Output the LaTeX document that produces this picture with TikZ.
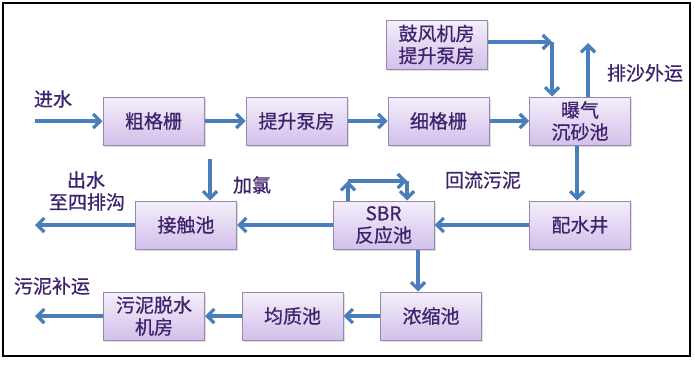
\documentclass[tikz,border=0pt]{standalone}
\usepackage{fontspec}
\newfontfamily\cjk[FakeBold=0.7]{Noto Sans CJK SC}
\usetikzlibrary{arrows.meta,shadows}
\definecolor{arrowblue}{RGB}{74,126,187}
\definecolor{txtpurple}{RGB}{62,34,108}
\definecolor{boxtop}{RGB}{244,238,250}
\definecolor{boxbot}{RGB}{210,192,234}
\definecolor{boxline}{RGB}{150,134,178}
\tikzset{
  procbox/.style={rectangle, draw=boxline, line width=1pt, top color=boxtop, bottom color=boxbot,
    minimum width=101pt, minimum height=48pt, inner sep=0pt, align=center,
    text=txtpurple, font=\cjk\fontsize{19}{22}\selectfont,
    drop shadow={opacity=0.25, shadow xshift=1.5pt, shadow yshift=-1.5pt}},
  lbl/.style={text=txtpurple, font=\cjk\fontsize{19}{22}\selectfont, inner sep=0pt},
  arr/.style={draw=arrowblue, line width=3.2pt, -{Straight Barb[length=7pt,width=14pt]}}
}
\begin{document}
\begin{tikzpicture}[x=1pt,y=-1pt]
\useasboundingbox (0,0) rectangle (695,364);
\fill[white] (0,0) rectangle (695,364);
\draw[black, line width=1.2pt] (3,3) rectangle (690,356);
% boxes
\node[procbox] (cu) at (153.5,121) {粗格栅};
\node[procbox] (ts) at (296.5,121) {提升泵房};
\node[procbox] (xi) at (438.5,121) {细格栅};
\node[procbox] (pq) at (580,121) {曝气\\沉砂池};
\node[procbox, minimum height=49pt] (gf) at (436.5,44.5) {鼓风机房\\提升泵房};
\node[procbox] (jc) at (186,225) {接触池};
\node[procbox] (sbr) at (383.5,225) {SBR\\反应池};
\node[procbox] (ps) at (580,225) {配水井};
\node[procbox] (wn) at (154,316) {污泥脱水\\机房};
\node[procbox] (jz) at (292.5,316) {均质池};
\node[procbox] (ns) at (431,316) {浓缩池};
% labels
\node[lbl] (l1) at (53,99) {进水};
\node[lbl] (l2) at (252,185) {加氯};
\node[lbl] (l3) at (483,180) {回流污泥};
\node[lbl] (l4) at (86,180) {出水};
\node[lbl] (l5) at (87,202) {至四排沟};
\node[lbl] (l6) at (645,73) {排沙外运};
\node[lbl] (l7) at (52,286) {污泥补运};
% coordinates
\coordinate (in) at (35,121);
\coordinate (o1) at (35,225);
\coordinate (o2) at (35,316);
\coordinate (gc) at (552,42);
\coordinate (pe) at (588,43);
\coordinate (pd) at (577,0);
\coordinate (cl) at (210,159);
\coordinate (sd) at (418,0);
\coordinate (la) at (348,181);
\coordinate (lb) at (407,181);
% arrows
\draw[arr] (in) -- (cu.west);
\draw[arr] (cu) -- (ts);
\draw[arr] (ts) -- (xi);
\draw[arr] (xi) -- (pq);
\draw[arr] (gf.east |- gc) -- (gc);
\draw[arr] (gc) -- (gc |- pq.north);
\draw[arr] (pq.north -| pe) -- (pe);
\draw[arr] (pq.south -| pd) -- (ps.north -| pd);
\draw[arr] (ps) -- (sbr);
\draw[arr] (sbr) -- (jc);
\draw[arr] (jc.west) -- (o1);
\draw[arr] (cl) -- (cl |- jc.north);
\draw[arr] (sbr.north -| la) -- (la);
\draw[arr] (la) -- (lb);
\draw[arr] (lb) -- (sbr.north -| lb);
\draw[arr] (sbr.south -| sd) -- (ns.north -| sd);
\draw[arr] (ns) -- (jz);
\draw[arr] (jz) -- (wn);
\draw[arr] (wn.west) -- (o2);
\end{tikzpicture}
\end{document}
